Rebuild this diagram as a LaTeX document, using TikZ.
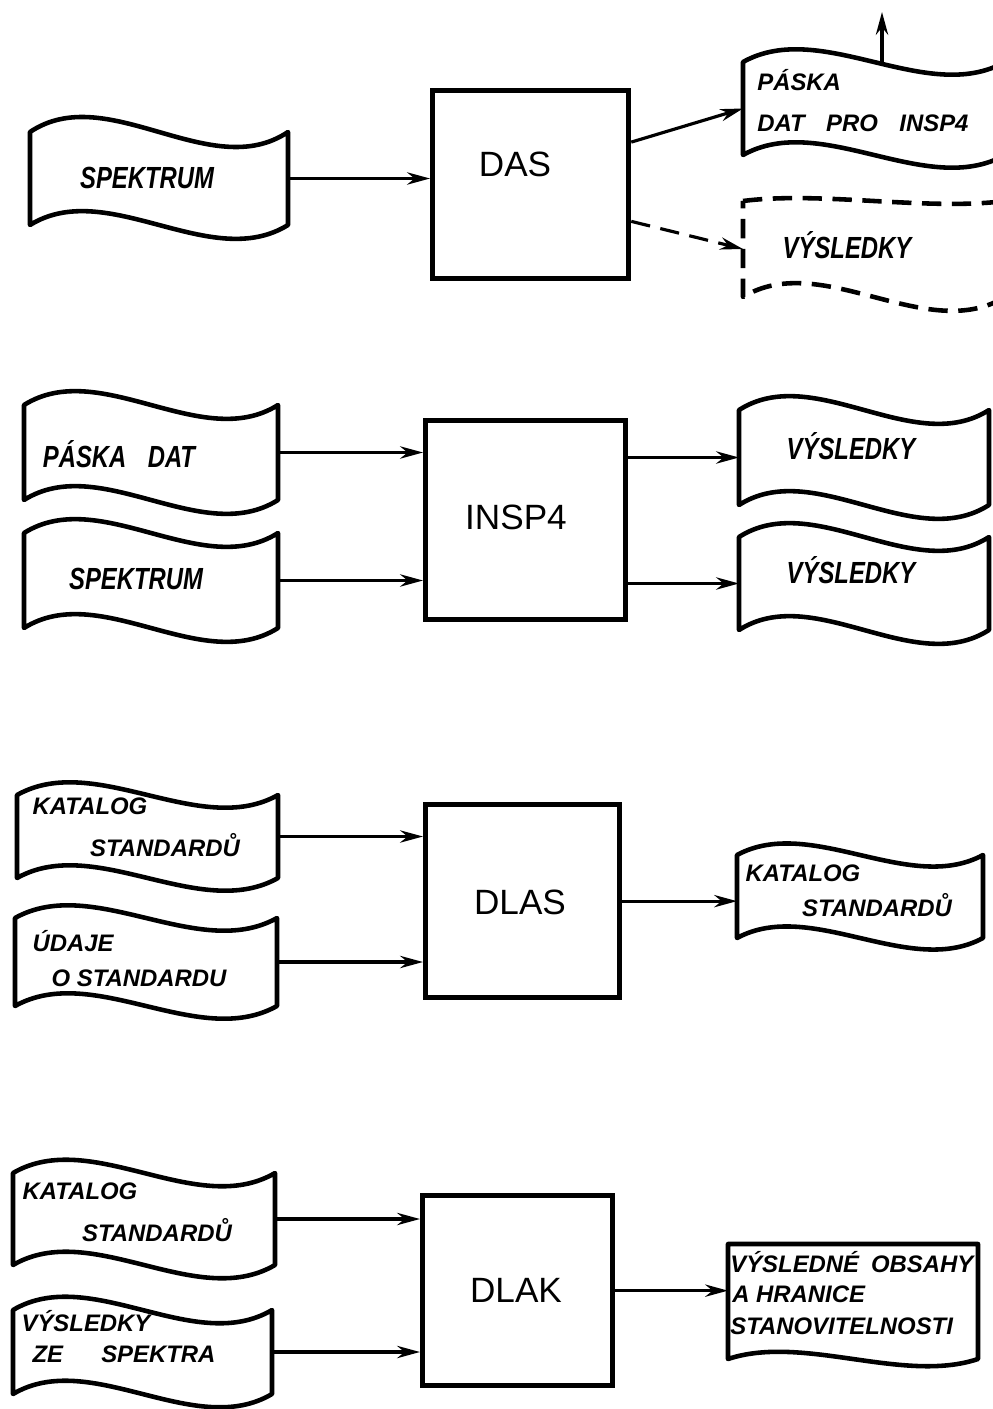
\documentclass[tikz,border=0pt]{standalone}
\usepackage{fontspec}
\setmainfont{Liberation Sans}
\newfontfamily\narrowsans{Liberation Sans}[FakeStretch=0.78]
\usetikzlibrary{arrows.meta,calc}

\tikzset{
  tapeline/.style={line width=2.6pt, line join=round},
  dashtape/.style={tapeline, dash pattern=on 11pt off 6pt},
  boxnode/.style={draw, line width=3pt, rectangle, inner sep=0pt, anchor=north west},
  area/.style={rectangle, inner sep=0pt, outer sep=0pt, anchor=north west},
  arr/.style={line width=1.8pt, -{Stealth[length=13pt,width=7pt]}},
  dasharr/.style={arr, dash pattern=on 11pt off 6pt},
  bigtxt/.style={font=\narrowsans\bfseries\itshape\fontsize{17.4}{20}\selectfont, inner sep=0pt, anchor=base},
  smalltxt/.style={font=\bfseries\itshape\fontsize{13.6}{16}\selectfont, inner sep=0pt, anchor=base},
  boxtxt/.style={font=\fontsize{20}{24}\selectfont, inner sep=0pt, anchor=base},
}

% tape outline drawn on an invisible area node: name, top bend, bottom bend
\newcommand\tapeshape[4][tapeline]{%
  \draw[#1] (#2.north west)
    .. controls ($(#2.north west)!0.3!(#2.north east)+(0,-#3)$) and ($(#2.north west)!0.7!(#2.north east)+(0,#3)$) .. (#2.north east)
    -- (#2.south east)
    .. controls ($(#2.south west)!0.7!(#2.south east)+(0,#4)$) and ($(#2.south west)!0.3!(#2.south east)+(0,-#4)$) .. (#2.south west)
    -- cycle;}

\begin{document}
\begin{tikzpicture}[x=0.02cm,y=-0.02cm]
\useasboundingbox (0,0) rectangle (993,1409);
\fill[white] (0,0) rectangle (993,1409);
\clip (0,0) rectangle (993,1409);

% ---------- DAS ----------
\node[area, minimum width=258*0.02cm, minimum height=93*0.02cm] (tSpek1) at (30,132) {};
\tapeshape{tSpek1}{52}{48}
\node[bigtxt] (sp1txt) at (147,189) {SPEKTRUM};

\node[boxnode, minimum width=196*0.02cm, minimum height=188*0.02cm] (das) at (430,88) {};
\node[boxtxt] (dastxt) at (515,177) {DAS};

\node[area, minimum width=262*0.02cm, minimum height=93*0.02cm] (tPaska) at (743,62) {};
\tapeshape{tPaska}{44}{44}
\node[smalltxt, anchor=base west] (pk1) at (757,91) {PÁSKA};
\node[smalltxt, anchor=base west] (pk2) at (757,132) {DAT\hspace{0.9em}PRO\hspace{0.9em}INSP4};

\node[area, minimum width=262*0.02cm, minimum height=96*0.02cm] (tRes1) at (743,201) {};
\tapeshape[dashtape]{tRes1}{10}{48}
\node[bigtxt] (vy1txt) at (847,258) {VÝSLEDKY};

\coordinate (upend) at (882,12);
\draw[arr] (upend |- tPaska.north) -- (upend);
\draw[arr] (tSpek1.east) -- (tSpek1.east -| das.west);
\draw[arr] ($(das.north east)!0.28!(das.south east)$) -- (tPaska.west);
\draw[dasharr] ($(das.north east)!0.69!(das.south east)$) -- (tRes1.west);

% ---------- INSP4 ----------
\node[area, minimum width=254*0.02cm, minimum height=95*0.02cm] (tPD) at (24,405) {};
\tapeshape{tPD}{48}{48}
\node[bigtxt] (pdtxt) at (119,467) {PÁSKA\hspace{0.7em}DAT};

\node[area, minimum width=254*0.02cm, minimum height=95*0.02cm] (tSp2) at (24,533) {};
\tapeshape{tSp2}{48}{48}
\node[bigtxt] (sp2txt) at (136,589) {SPEKTRUM};

\node[boxnode, minimum width=200*0.02cm, minimum height=199*0.02cm] (insp) at (423,418) {};
\node[boxtxt] (insptxt) at (516,529) {INSP4};

\node[area, minimum width=250*0.02cm, minimum height=95*0.02cm] (tR1) at (739,410) {};
\tapeshape{tR1}{48}{48}
\node[bigtxt] (vy2txt) at (851,459) {VÝSLEDKY};

\node[area, minimum width=250*0.02cm, minimum height=93*0.02cm] (tR2) at (739,537) {};
\tapeshape{tR2}{48}{48}
\node[bigtxt] (vy3txt) at (851,583) {VÝSLEDKY};

\draw[arr] (tPD.east) -- (tPD.east -| insp.west);
\draw[arr] (tSp2.east) -- (tSp2.east -| insp.west);
\draw[arr] (tR1.west -| insp.east) -- (tR1.west);
\draw[arr] (tR2.west -| insp.east) -- (tR2.west);

% ---------- DLAS ----------
\node[area, minimum width=261*0.02cm, minimum height=83*0.02cm] (tKat1) at (17,795) {};
\tapeshape{tKat1}{44}{44}
\node[smalltxt] (k1a) at (90,814) {KATALOG};
\node[smalltxt] (k1b) at (165,856) {STANDARDŮ};

\node[area, minimum width=262*0.02cm, minimum height=88*0.02cm] (tUd) at (15,918) {};
\tapeshape{tUd}{44}{44}
\node[smalltxt] (u1a) at (73,951) {ÚDAJE};
\node[smalltxt] (u1b) at (139,986) {O STANDARDU};

\node[boxnode, minimum width=194*0.02cm, minimum height=193*0.02cm] (dlas) at (423,802) {};
\node[boxtxt] (dlastxt) at (520,914) {DLAS};

\node[area, minimum width=246*0.02cm, minimum height=83*0.02cm] (tKat2) at (737,855) {};
\tapeshape{tKat2}{40}{40}
\node[smalltxt] (k2a) at (803,881) {KATALOG};
\node[smalltxt] (k2b) at (877,916) {STANDARDŮ};

\draw[arr] (tKat1.east) -- (tKat1.east -| dlas.west);
\draw[arr] (tUd.east) -- (tUd.east -| dlas.west);
\draw[arr] (dlas.east) -- (dlas.east -| tKat2.west);

% ---------- DLAK ----------
\node[area, minimum width=262*0.02cm, minimum height=92*0.02cm] (tKat3) at (13,1173) {};
\tapeshape{tKat3}{46}{46}
\node[smalltxt] (k3a) at (80,1199) {KATALOG};
\node[smalltxt] (k3b) at (157,1241) {STANDARDŮ};

\node[area, minimum width=259*0.02cm, minimum height=84*0.02cm] (tVZ) at (13,1310) {};
\tapeshape{tVZ}{46}{46}
\node[smalltxt] (v4a) at (86,1331) {VÝSLEDKY};
\node[smalltxt] (v4b) at (124,1362) {ZE\hspace{1.6em}SPEKTRA};

\node[boxnode, minimum width=190*0.02cm, minimum height=190*0.02cm] (dlak) at (420,1193) {};
\node[boxtxt] (dlaktxt) at (516,1302) {DLAK};

\node[area, minimum width=250*0.02cm, minimum height=115*0.02cm] (tOut) at (728,1244) {};
\tapeshape{tOut}{0}{25}
\node[smalltxt, anchor=base west] (o1) at (730,1272) {VÝSLEDNÉ\hspace{0.5em}OBSAHY};
\node[smalltxt, anchor=base west] (o2) at (732,1302) {A HRANICE};
\node[smalltxt, anchor=base west] (o3) at (730,1334) {STANOVITELNOSTI};

\draw[arr] (tKat3.east) -- (tKat3.east -| dlak.west);
\draw[arr] (tVZ.east) -- (tVZ.east -| dlak.west);
\draw[arr] (dlak.east) -- (dlak.east -| tOut.west);
\end{tikzpicture}
\end{document}
